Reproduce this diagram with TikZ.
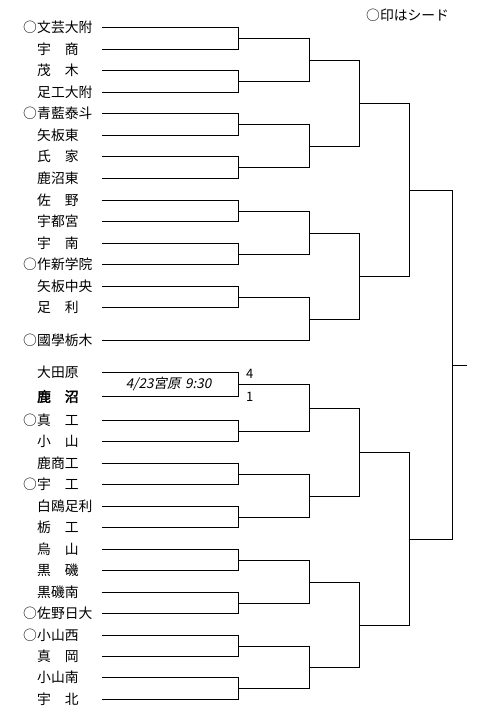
\documentclass[tikz,border=0pt]{standalone}
\usepackage{fontspec}
\setmainfont{Noto Sans CJK JP}
\newfontfamily\boldcjk[FakeBold=3]{Noto Sans CJK JP}
\newfontfamily\slantcjk[FakeSlant=0.2]{Noto Sans CJK JP}
\usetikzlibrary{calc}
\newcommand\bracket[4]{%
  \draw[wire] (#1) -- (#1 -| #3) -- (#2 -| #3) -- (#2);
  \path let \p1=($(#1 -| #3)!.5!(#2 -| #3)$) in
    coordinate (#4) at (\x1,{-(floor(-\y1)+0.5)*1pt});}
\begin{document}
\begin{tikzpicture}[x=1pt,y=-1pt,
  wire/.style={line width=1pt,black},
  team/.style={anchor=west,inner sep=0pt,font=\fontsize{13.8}{13.8}\selectfont},
  seedmark/.style={anchor=east,inner sep=0pt,font=\fontsize{13.8}{13.8}\selectfont},
  note/.style={inner sep=0pt,font=\fontsize{13}{13}\selectfont}]
\useasboundingbox (0,0) rectangle (483,719);
\foreach \i/\y/\s/\n in {
  1/27.5/1/文芸大附, 2/49.5/0/宇　商, 3/70.5/0/茂　木, 4/92.5/0/足工大附,
  5/113.5/1/青藍泰斗, 6/135.5/0/矢板東, 7/156.5/0/氏　家, 8/178.5/0/鹿沼東,
  9/200.5/0/佐　野, 10/221.5/0/宇都宮, 11/243.5/0/宇　南, 12/264.5/1/作新学院,
  13/286.5/0/矢板中央, 14/307.5/0/足　利, 15/340.5/1/國學栃木,
  16/372.5/0/大田原, 17/396.5/0/{\boldcjk 鹿　沼},
  18/420.5/1/真　工, 19/441.5/0/小　山, 20/463.5/0/鹿商工, 21/484.5/1/宇　工,
  22/506.5/0/白鴎足利, 23/527.5/0/栃　工, 24/549.5/0/烏　山, 25/570.5/0/黒　磯,
  26/592.5/0/黒磯南, 27/613.5/1/佐野日大, 28/635.5/1/小山西, 29/656.5/0/真　岡,
  30/677.5/0/小山南, 31/699.5/0/宇　北}{
  \node[team] (t\i) at (37,\y) {\n};
  \ifnum\s=1 \node[seedmark] (k\i) at (37,\y) {○};\fi
  \coordinate (s\i) at (101.5,\y);
}
\coordinate (X1) at (238.5,0);
\coordinate (X2) at (309.5,0);
\coordinate (X3) at (359.5,0);
\coordinate (X4) at (409.5,0);
\coordinate (X5) at (452.5,0);
\coordinate (X6) at (467,0);
% top half
\bracket{s1}{s2}{X1}{a1}
\bracket{s3}{s4}{X1}{a2}
\bracket{s5}{s6}{X1}{a3}
\bracket{s7}{s8}{X1}{a4}
\bracket{s9}{s10}{X1}{a5}
\bracket{s11}{s12}{X1}{a6}
\bracket{s13}{s14}{X1}{a7}
\bracket{a1}{a2}{X2}{b1}
\bracket{a3}{a4}{X2}{b2}
\bracket{a5}{a6}{X2}{b3}
\bracket{a7}{s15}{X2}{b4}
\bracket{b1}{b2}{X3}{c1}
\bracket{b3}{b4}{X3}{c2}
\bracket{c1}{c2}{X4}{d1}
% bottom half
\bracket{s16}{s17}{X1}{a8}
\bracket{s18}{s19}{X1}{a9}
\bracket{s20}{s21}{X1}{a10}
\bracket{s22}{s23}{X1}{a11}
\bracket{s24}{s25}{X1}{a12}
\bracket{s26}{s27}{X1}{a13}
\bracket{s28}{s29}{X1}{a14}
\bracket{s30}{s31}{X1}{a15}
\bracket{a8}{a9}{X2}{b5}
\bracket{a10}{a11}{X2}{b6}
\bracket{a12}{a13}{X2}{b7}
\bracket{a14}{a15}{X2}{b8}
\bracket{b5}{b6}{X3}{c3}
\bracket{b7}{b8}{X3}{c4}
\bracket{c3}{c4}{X4}{d2}
% final
\bracket{d1}{d2}{X5}{fin}
\draw[wire] (fin) -- (fin -| X6);
% labels
\node[note,font=\fontsize{13.5}{13.5}\selectfont\slantcjk] (date) at (168.5,384.3) {4/23宮原\,\,9:30};
\node[note,anchor=west] (sc1) at (246,373.5) {4};
\node[note,anchor=west] (sc2) at (246,396.5) {1};
\node[team] (legend) at (366,15.7) {○印はシード};
\end{tikzpicture}
\end{document}
